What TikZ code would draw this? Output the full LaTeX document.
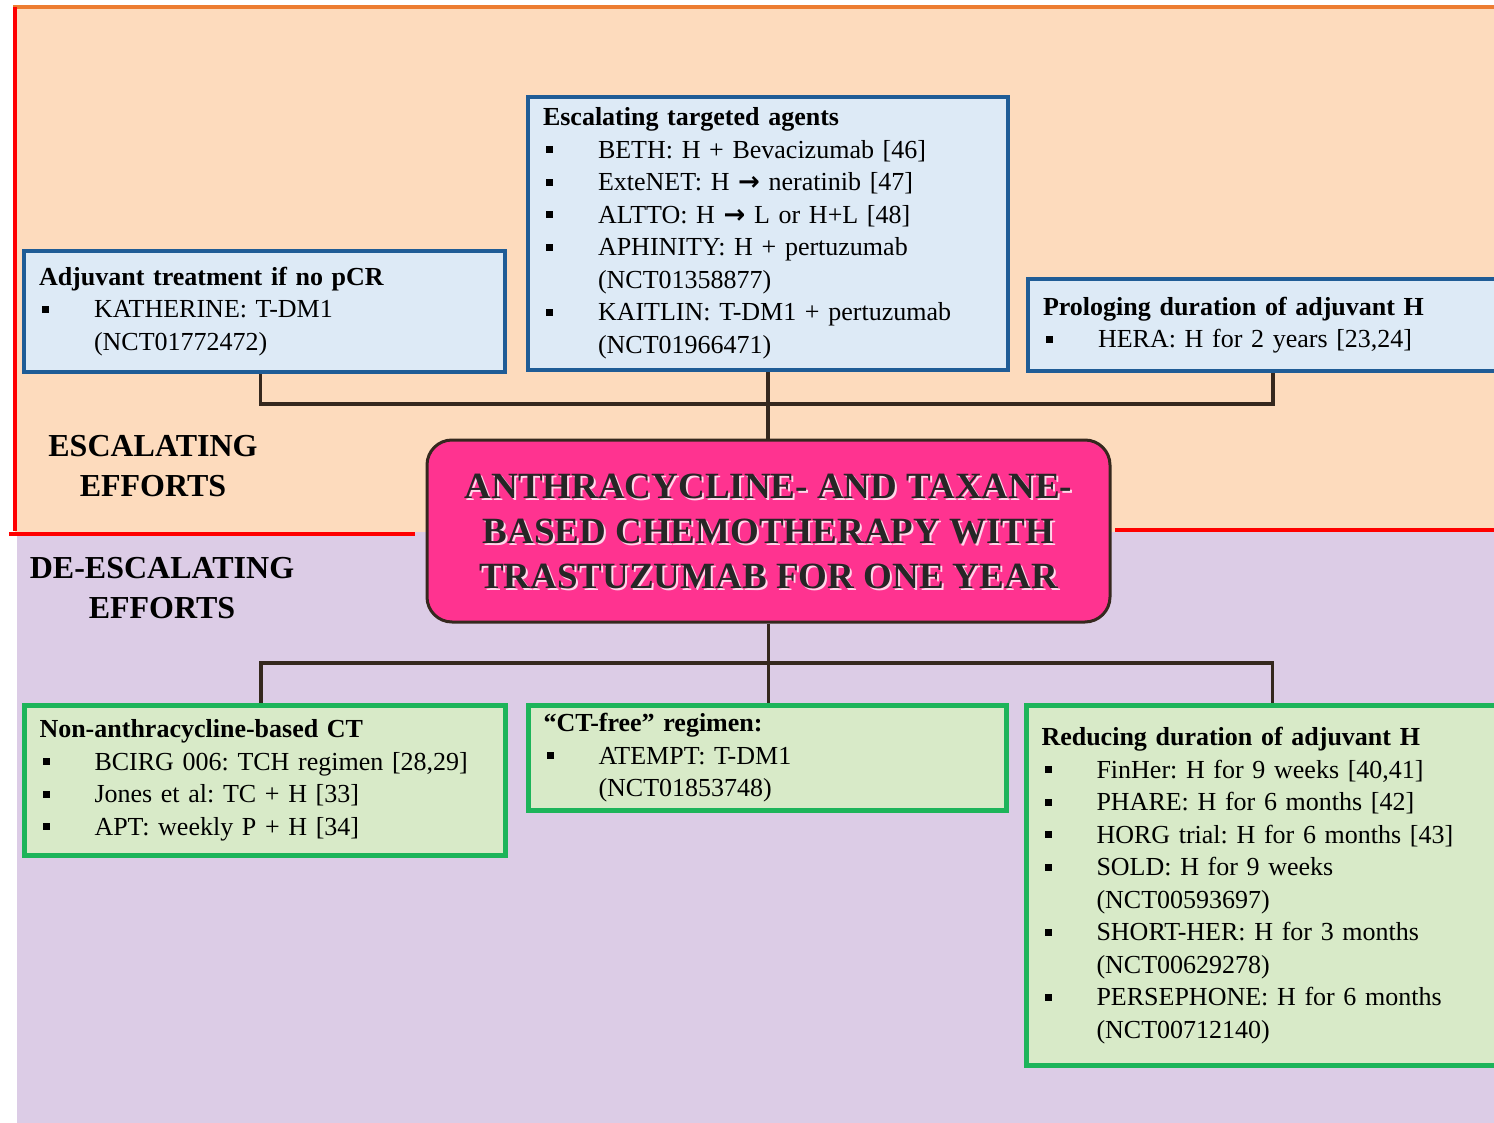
\documentclass[tikz,border=0pt]{standalone}
\usepackage{fontspec}
\setmainfont{Liberation Serif}
\newfontfamily\setas{DejaVu Sans}
\usetikzlibrary{positioning}
\definecolor{pessego}{HTML}{FDDBBD}
\definecolor{lilas}{HTML}{DCCCE6}
\definecolor{laranja}{HTML}{ED7D31}
\definecolor{azulborda}{HTML}{1F5C96}
\definecolor{azulfundo}{HTML}{DDEAF6}
\definecolor{verdeborda}{HTML}{1DB45A}
\definecolor{verdefundo}{HTML}{D8EAC8}
\definecolor{rosa}{HTML}{FF3390}
\definecolor{linha}{HTML}{35281E}
\newcommand{\bul}{\makebox[55pt][l]{\hspace{3pt}\rule[5pt]{7pt}{7pt}}}
\newcommand{\cont}{\hspace*{55pt}}
\newcommand{\seta}{{\setas\bfseries →}}
\tikzset{
caixa/.style = {draw, anchor=north west, align=left, inner xsep=15pt, inner ysep=2pt,
                font=\fontsize{26}{32.5}\selectfont\frenchspacing}
         }
\tikzset{
escala/.style = {caixa, draw=azulborda, fill=azulfundo, line width=4pt},
desescala/.style = {caixa, draw=verdeborda, fill=verdefundo, line width=5pt},
conector/.style = {draw=linha, line width=3.5pt},
titulo/.style = {align=center, font=\fontsize{37}{45}\selectfont\bfseries}
         }

\begin{document}
\begin{tikzpicture}[x=1pt,y=-1pt]
    \useasboundingbox (0,0) rectangle (1494,1123);
    \clip (0,0) rectangle (1494,1123);

    % FUNDO
    \fill[pessego] (15,7) rectangle (1494,532);
    \fill[lilas] (17,532) rectangle (1494,1123);
    \draw[laranja, line width=4pt] (13,7) -- (1494,7);
    \draw[red, line width=4pt] (15,7) -- (15,531);
    \draw[red, line width=4pt] (9,534) -- (415,534);
    \draw[red, line width=4pt] (1115,530) -- (1494,530);

    % ROTULOS
    \node[align=center, font=\fontsize{32}{40}\selectfont\bfseries] (esclab) at (153,466)
        {ESCALATING\\EFFORTS};
    \node[align=center, font=\fontsize{32}{40}\selectfont\bfseries] (desclab) at (162,588)
        {DE-ESCALATING\\EFFORTS};

    % CAIXA CENTRAL
    \node[draw=linha, fill=rosa, line width=3pt, rounded corners=25pt,
          minimum width=683pt, minimum height=182pt] (centro) at (768.5,531) {};
    \node[titulo, text=white!80!rosa] (sombra) at ([shift={(2,2.5)}]centro.center)
        {ANTHRACYCLINE- AND TAXANE-\\BASED CHEMOTHERAPY WITH\\TRASTUZUMAB FOR ONE YEAR};
    \node[titulo, text=black!85] (tit) at (centro.center)
        {ANTHRACYCLINE- AND TAXANE-\\BASED CHEMOTHERAPY WITH\\TRASTUZUMAB FOR ONE YEAR};

    % ESCALONAMENTO
    \node[escala, minimum width=481pt, minimum height=121pt, text width=451pt] (adj) at (22,249)
        {\textbf{Adjuvant treatment if no pCR}\\
         \bul KATHERINE: T-DM1\\
         \cont (NCT01772472)};
    \node[escala, minimum width=480pt, minimum height=273pt, text width=450pt] (esc) at (526,95)
        {\textbf{Escalating targeted agents}\\
         \bul BETH: H + Bevacizumab [46]\\
         \bul ExteNET: H \seta{} neratinib [47]\\
         \bul ALTTO: H \seta{} L or H+L [48]\\
         \bul APHINITY: H + pertuzumab\\
         \cont (NCT01358877)\\
         \bul KAITLIN: T-DM1 + pertuzumab\\
         \cont (NCT01966471)};
    \node[escala, minimum width=494pt, minimum height=92pt, text width=464pt] (prol) at (1026,277)
        {\textbf{Prologing duration of adjuvant H}\\
         \bul HERA: H for 2 years [23,24]};

    % DESESCALONAMENTO
    \node[desescala, minimum width=481pt, minimum height=150pt, text width=451pt] (naoantra) at (22,703)
        {\textbf{Non-anthracycline-based CT}\\
         \bul BCIRG 006: TCH regimen [28,29]\\
         \bul Jones et al: TC + H [33]\\
         \bul APT: weekly P + H [34]};
    \node[desescala, minimum width=478pt, minimum height=105pt, text width=448pt] (ctlivre) at (526,703)
        {\textbf{“CT-free” regimen:}\\
         \bul ATEMPT: T-DM1\\
         \cont (NCT01853748)};
    \node[desescala, minimum width=496pt, minimum height=360pt, text width=466pt] (reduz) at (1024,703)
        {\textbf{Reducing duration of adjuvant H}\\
         \bul FinHer: H for 9 weeks [40,41]\\
         \bul PHARE: H for 6 months [42]\\
         \bul HORG trial: H for 6 months [43]\\
         \bul SOLD: H for 9 weeks\\
         \cont (NCT00593697)\\
         \bul SHORT-HER: H for 3 months\\
         \cont (NCT00629278)\\
         \bul PERSEPHONE: H for 6 months\\
         \cont (NCT00712140)};

    % LIGACOES
    \coordinate (jt) at (768,404);
    \coordinate (jb) at (770,663);
    \draw[conector] ([xshift=-4pt]adj.south) |- (jt) -| ([xshift=-2pt]prol.south);
    \draw[conector] (esc.south) -- (esc.south |- centro.north);
    \draw[conector] ([xshift=-4pt]naoantra.north) |- (jb) -| ([xshift=-2pt]reduz.north);
    \draw[conector] (centro.south) -- (centro.south |- ctlivre.north);

\end{tikzpicture}
\end{document}
